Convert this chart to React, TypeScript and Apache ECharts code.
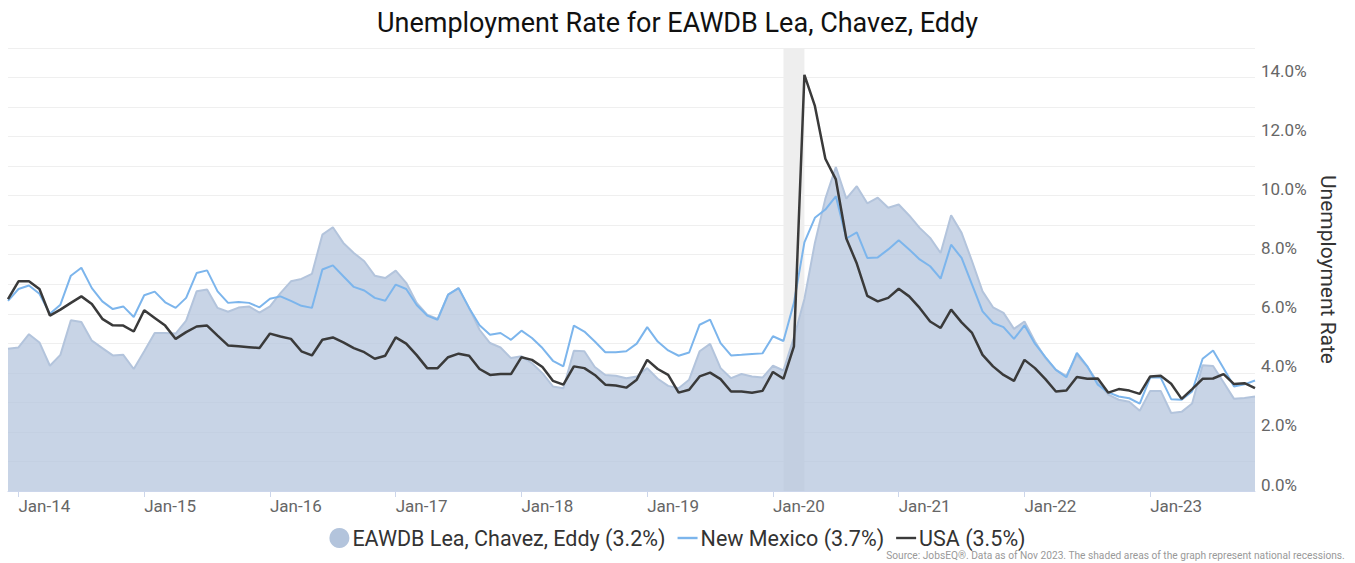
import React, { useEffect, useRef } from "react";
import * as echarts from "echarts";

const START_YEAR = 2013;
const START_MONTH = 11; // December (0-based)
const MONTH_NAMES = ["Jan", "Feb", "Mar", "Apr", "May", "Jun", "Jul", "Aug", "Sep", "Oct", "Nov", "Dec"];

const regionValues = [
  4.82, 4.86, 5.31, 5.03, 4.24, 4.61, 5.78, 5.72, 5.09, 4.84, 4.59, 4.61, 4.13, 4.73, 5.35, 5.35, 5.33, 5.77, 6.76, 6.82,
  6.2, 6.07, 6.21, 6.25, 6.04, 6.25, 6.7, 7.1, 7.18, 7.35, 8.68, 8.93, 8.4, 8.06, 7.78, 7.29, 7.21, 7.46, 7.05, 6.37,
  5.97, 5.83, 6.65, 6.87, 6.2, 5.46, 5.01, 4.86, 4.5, 4.56, 4.33, 3.99, 3.54, 3.48, 4.75, 4.73, 4.2, 3.93, 3.9, 3.82,
  3.88, 4.16, 3.8, 3.56, 3.48, 3.77, 4.73, 4.98, 4.16, 3.82, 3.96, 3.88, 3.84, 4.24, 4.08,
  5.2, 6.5, 8.4, 9.9, 10.97, 9.9, 10.32, 9.74, 9.93, 9.59, 9.7, 9.33, 8.91, 8.57, 8.06, 9.34, 8.74, 7.78, 6.76, 6.22,
  6.03, 5.49, 5.74, 5.06, 4.5,
  4.1, 3.9, 4.6, 4.2, 3.68, 3.26, 3.09, 3.02, 2.72, 3.39, 3.39, 2.64, 2.68, 2.96, 4.26, 4.23, 3.68, 3.12, 3.15, 3.2,
];

const newMexicoValues = [
  6.44, 6.84, 6.96, 6.68, 6.0, 6.31, 7.29, 7.56, 6.87, 6.42, 6.16, 6.25, 5.89, 6.63, 6.75, 6.39, 6.2, 6.54, 7.38, 7.47,
  6.76, 6.37, 6.4, 6.37, 6.22, 6.51, 6.59, 6.44, 6.27, 6.2, 7.5, 7.64, 7.27, 6.91, 6.79, 6.54, 6.44, 6.99, 6.84, 6.3,
  5.94, 5.8, 6.65, 6.87, 6.2, 5.61, 5.29, 5.35, 5.12, 5.43, 5.18, 4.84, 4.41, 4.22, 5.6, 5.4, 5.06, 4.7, 4.7, 4.73,
  4.99, 5.55, 5.06, 4.76, 4.58, 4.69, 5.63, 5.8, 5.01, 4.59, 4.61, 4.64, 4.66, 5.24, 5.08, 6.37, 8.42, 9.25,
  9.53, 9.98, 8.55, 8.76, 7.89, 7.91, 8.18, 8.49, 8.18, 7.84, 7.61, 7.19, 8.34, 7.89, 6.99, 6.08, 5.69, 5.55, 5.15, 5.61,
  4.99, 4.53,
  4.1, 3.85, 4.68, 4.22, 3.6, 3.34, 3.2, 3.14, 2.96, 3.84, 3.84, 3.11, 3.09, 3.37, 4.48, 4.76, 4.16, 3.54, 3.61, 3.74,
];

const usaValues = [
  6.5, 7.1, 7.1, 6.84, 5.94, 6.14, 6.37, 6.59, 6.33, 5.83, 5.61, 5.6, 5.4, 6.12, 5.86, 5.6, 5.15, 5.38, 5.57, 5.6,
  5.26, 4.93, 4.9, 4.87, 4.84, 5.33, 5.23, 5.15, 4.73, 4.59, 5.12, 5.2, 5.03, 4.84, 4.7, 4.48, 4.58, 5.2, 4.99, 4.6,
  4.16, 4.16, 4.53, 4.65, 4.58, 4.13, 3.93, 3.96, 3.96, 4.53, 4.44, 4.2, 3.73, 3.6, 4.22, 4.16, 3.93, 3.6, 3.57, 3.5,
  3.77, 4.44, 4.13, 3.93, 3.33, 3.43, 3.88, 4.01, 3.79, 3.37, 3.37, 3.33, 3.39, 4.03,
  3.8, 4.9, 14.09, 13.04, 11.25, 10.55, 8.55, 7.7, 6.61, 6.42, 6.54, 6.85, 6.59, 6.2, 5.74, 5.52, 6.14, 5.71, 5.35, 4.61,
  4.22, 3.93, 3.73, 4.44, 4.16, 3.79,
  3.37, 3.4, 3.86, 3.8, 3.81, 3.33, 3.45, 3.4, 3.29, 3.88, 3.9, 3.63, 3.12, 3.45, 3.8, 3.81, 3.96, 3.62, 3.65, 3.48,
];

const seriesNames = ["EAWDB Lea, Chavez, Eddy (3.2%)", "New Mexico (3.7%)", "USA (3.5%)"];
const recessionRange = ["Feb-20", "Apr-20"];
const titleText = "Unemployment Rate for EAWDB Lea, Chavez, Eddy";
const yAxisTitle = "Unemployment Rate";
const sourceText = "Source: JobsEQ®. Data as of Nov 2023. The shaded areas of the graph represent national recessions.";

const months: string[] = [];
for (let i = 0; i < usaValues.length; i++) {
  const m = (START_MONTH + i) % 12;
  const y = START_YEAR + Math.floor((START_MONTH + i) / 12);
  months.push(MONTH_NAMES[m] + "-" + String(y).slice(2));
}

const FONT = "Roboto";
const isJan = (_i: number, v: string) => String(v).startsWith("Jan");
const LINE_ICON = "path://M0,0H20V2.4H0Z";

export default function App() {
  const ref = useRef<HTMLDivElement>(null);
  useEffect(() => {
    if (!ref.current) return;
    const chart = echarts.init(ref.current, undefined, { renderer: "svg" });
    chart.setOption({
      animation: false,
      backgroundColor: "#ffffff",
      title: {
        text: titleText,
        left: "center",
        top: 4,
        textStyle: { fontFamily: FONT, fontSize: 27, fontWeight: "normal", color: "#111" },
      },
      grid: { left: 8, right: 100, top: 48, bottom: 72 },
      legend: {
        top: 522,
        left: "center",
        itemGap: 12,
        itemWidth: 20,
        itemHeight: 21,
        textStyle: { fontFamily: FONT, fontSize: 21.5, color: "#333", padding: [0, 0, 0, -2] },
        data: [
          { name: seriesNames[0], icon: "circle" },
          { name: seriesNames[1], icon: LINE_ICON },
          { name: seriesNames[2], icon: LINE_ICON },
        ],
      },
      xAxis: {
        type: "category",
        data: months,
        boundaryGap: false,
        axisLine: { show: true, lineStyle: { color: "#ccd6eb" } },
        axisTick: { show: true, interval: isJan, length: 6, lineStyle: { color: "#ccd6eb" } },
        axisLabel: {
          interval: isJan,
          align: "left",
          margin: 6,
          color: "#666",
          fontSize: 17,
          fontFamily: FONT,
        },
        splitLine: { show: false },
      },
      yAxis: {
        type: "value",
        position: "right",
        min: 0,
        max: 15,
        interval: 1,
        axisLine: { show: false },
        axisTick: { show: false },
        splitLine: { lineStyle: { color: "#efefef", width: 1 } },
        axisLabel: {
          formatter: (v: number) => (v % 2 === 0 && v < 15 ? v.toFixed(1) + "%" : ""),
          color: "#666",
          fontSize: 17,
          fontFamily: FONT,
          margin: 6,
          verticalAlign: "bottom",
          padding: [0, 0, -2, 0],
        },
        name: yAxisTitle,
        nameLocation: "middle",
        nameRotate: -90,
        nameGap: 52,
        nameTextStyle: { fontFamily: FONT, fontSize: 21, color: "#333", padding: [0, 0, 8, 0] },
      },
      graphic: [
        {
          type: "text",
          right: 10,
          bottom: 3,
          style: { text: sourceText, fontFamily: FONT, fontSize: 10.2, fill: "#999" },
        },
      ],
      series: [
        {
          name: seriesNames[0],
          type: "line",
          data: regionValues,
          symbol: "none",
          z: 2,
          itemStyle: { color: "#b3c4dc" },
          lineStyle: { color: "#b3c4dc", width: 2 },
          areaStyle: { color: "#b3c4dc", opacity: 0.72 },
          markArea: {
            silent: true,
            itemStyle: { color: "#eeeeee" },
            data: [[{ xAxis: recessionRange[0] }, { xAxis: recessionRange[1] }]],
          },
        },
        {
          name: seriesNames[1],
          type: "line",
          data: newMexicoValues,
          symbol: "none",
          z: 3,
          itemStyle: { color: "#7cb5ec" },
          lineStyle: { color: "#7cb5ec", width: 2 },
        },
        {
          name: seriesNames[2],
          type: "line",
          data: usaValues,
          symbol: "none",
          z: 4,
          itemStyle: { color: "#3a3a3a" },
          lineStyle: { color: "#3a3a3a", width: 2.5 },
        },
      ],
    });
    return () => chart.dispose();
  }, []);
  return (
    <div
      ref={ref}
      style={{ position: "fixed", left: 0, top: 0, width: 1355, height: 563, background: "#fff" }}
    />
  );
}
